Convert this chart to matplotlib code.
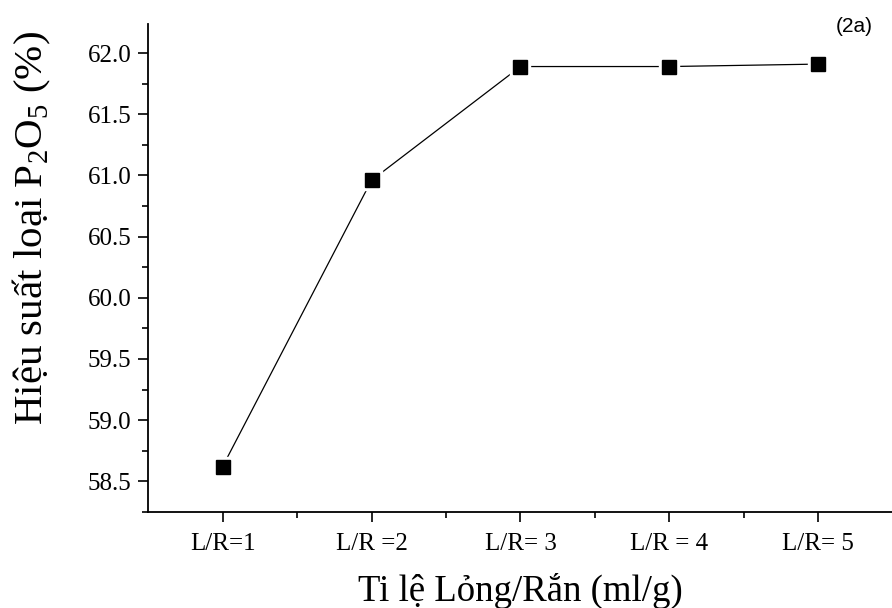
import numpy as np
import matplotlib
matplotlib.use('Agg')
import matplotlib.pyplot as plt
from matplotlib.ticker import MultipleLocator, FixedLocator, FormatStrFormatter

# data
categories = ['L/R=1', 'L/R =2', 'L/R= 3', 'L/R = 4', 'L/R= 5']
positions = [1, 2, 3, 4, 5]
efficiency = [58.62, 60.96, 61.89, 61.89, 61.91]

plt.rcParams['font.family'] = ['Liberation Serif', 'DejaVu Serif']
plt.rcParams['mathtext.fontset'] = 'custom'
plt.rcParams['mathtext.rm'] = 'Liberation Serif'

fig = plt.figure(figsize=(8.92, 6.08), dpi=100)
ax = fig.add_axes([0.166, 0.158, 0.835, 0.803])

# line first, then white squares to leave a small gap, then black squares
ax.plot(positions, efficiency, color='black', lw=0.9, zorder=2)
ax.plot(positions, efficiency, 's', color='white', ms=15, zorder=3)
ax.plot(positions, efficiency, 's', color='black', ms=9.4, zorder=4)

ax.set_xlim(0.5, 5.5)
ax.set_ylim(58.25, 62.24)
ax.set_xticks(positions)
ax.set_xticklabels(categories)
ax.xaxis.set_minor_locator(FixedLocator([1.5, 2.5, 3.5, 4.5]))
ax.yaxis.set_major_locator(MultipleLocator(0.5))
ax.yaxis.set_minor_locator(MultipleLocator(0.25))
ax.yaxis.set_major_formatter(FormatStrFormatter('%.1f'))

for s in ['top', 'right']:
    ax.spines[s].set_visible(False)
for s in ['left', 'bottom']:
    ax.spines[s].set_linewidth(1.3)

ax.tick_params(which='major', direction='out', length=7, width=1.2, labelsize=18, pad=5)
ax.tick_params(which='minor', direction='out', length=4, width=1.2)
ax.tick_params(axis='x', pad=8)

# axis titles placed by hand, the y one sits above the axes centre in the original
fig.text(0.036, 1 - 228 / 608, 'Hiệu suất loại P$_2$O$_5$ (%)', fontsize=29.5,
         rotation=90, ha='center', va='center')
fig.text(0.583, 1 - 601 / 608, 'Ti lệ Lỏng/Rắn (ml/g)', fontsize=26.5,
         ha='center', va='baseline')

fig.text(0.958, 0.957, '(2a)', fontsize=15, family='Liberation Sans', ha='center', va='center')

fig.savefig('out.png', dpi=100)
